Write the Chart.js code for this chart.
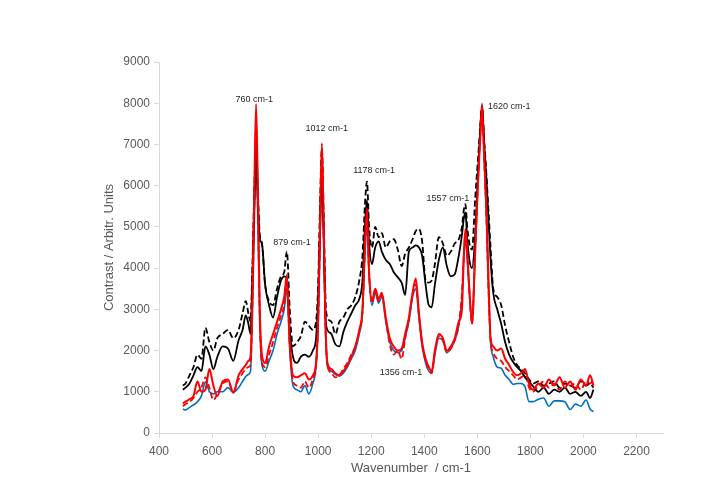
<!DOCTYPE html>
<html>
<head>
<meta charset="utf-8">
<script src="https://cdn.jsdelivr.net/npm/chart.js@4/dist/chart.umd.min.js"></script>
<style>
  html, body { margin: 0; padding: 0; background: #fff; }
  .chart-box { position: relative; width: 709px; height: 498px; }
</style>
</head>
<body>
<div class="chart-box"><canvas id="spectrum"></canvas></div>
<script>
// wavenumber grid (cm-1), shared by all five spectra
const wavenumber = [
  490, 500, 515, 530, 545, 560, 575, 590, 605, 620,
  640, 660, 680, 700, 715, 727, 737, 745, 752, 759,
  766, 773, 780, 788, 800, 815, 830, 845, 860, 872,
  882, 893, 905, 920, 935, 950, 965, 980, 992, 1000,
  1007, 1014, 1021, 1028, 1035, 1050, 1065, 1080, 1095, 1110,
  1125, 1140, 1155, 1167, 1176, 1184, 1192, 1203, 1215, 1228,
  1240, 1255, 1270, 1285, 1300, 1315, 1328, 1342, 1356, 1368,
  1380, 1392, 1405, 1417, 1428, 1440, 1455, 1470, 1485, 1500,
  1515, 1530, 1542, 1549, 1555, 1562, 1570, 1580, 1592, 1602,
  1610, 1618, 1626, 1634, 1642, 1650, 1660, 1675, 1690, 1705,
  1720, 1735, 1750, 1765, 1780, 1795, 1810, 1830, 1850, 1870,
  1890, 1910, 1930, 1950, 1970, 1990, 2010, 2025, 2038
];

const redSolid = [
  720, 760, 820, 900, 1250, 1000, 1050, 1550, 1150, 900,
  1250, 1300, 980, 1400, 1550, 1650, 1750, 1850, 3300, 5800,
  7980, 5800, 3000, 1900, 1700, 2100, 2400, 2700, 3000, 3300,
  3830, 2200, 1400, 1350, 1400, 1450, 1300, 1400, 1700, 2800,
  5000, 7030, 5000, 2600, 1700, 1550, 1450, 1400, 1500, 1650,
  1850, 2100, 2500, 3000, 4500, 5450, 3900, 3200, 3500, 3250,
  3400, 2800, 2300, 2100, 2000, 2050, 2400, 2800, 3400, 3750,
  2900, 2200, 1800, 1600, 1500, 2000, 2400, 2300, 2000, 2100,
  2300, 2700, 3000, 4300, 4950, 4400, 3500, 2650, 4400, 6000,
  7000, 7950, 6700, 5500, 3800, 2300, 2100, 2000, 2050, 1800,
  1650, 1480, 1400, 1450, 1550, 1200, 1050, 1200, 1100, 1300,
  1150, 1350, 1100, 1250, 1050, 1300, 1150, 1400, 1150
];

const redDashed = [
  650, 700, 750, 850, 1000, 1100, 1350, 1100, 800, 950,
  1200, 1250, 1000, 1300, 1450, 1550, 1600, 1650, 3100, 5400,
  7500, 5400, 2800, 1700, 1600, 1900, 2200, 2550, 2850, 3100,
  3600, 2100, 1250, 1150, 1100, 1250, 1100, 1300, 1650, 2700,
  4800, 6700, 4700, 2500, 1650, 1450, 1350, 1400, 1550, 1700,
  1900, 2100, 2450, 2950, 4400, 5250, 3900, 3150, 3450, 3200,
  3350, 2750, 2150, 1900, 2000, 1800, 2300, 2750, 3350, 3600,
  2850, 2150, 1750, 1550, 1450, 1950, 2350, 2250, 1950, 2050,
  2250, 2650, 3400, 4300, 4800, 4300, 3450, 2650, 4450, 6000,
  7200, 7950, 6600, 5300, 3500, 2250, 1950, 1800, 1750, 1600,
  1500, 1400, 1300, 1350, 1400, 1100, 1000, 1150, 1250, 1100,
  1200, 1050, 1250, 1150, 1200, 1050, 1250, 1200, 1300
];

const blackSolid = [
  1050, 1100, 1200, 1400, 1600, 1500, 2100, 1900, 1550, 1850,
  2100, 2050, 1750, 2250, 2500, 2850, 2650, 2400, 3800, 5500,
  6900, 5600, 4700, 4600, 3600, 3100, 2800, 3300, 3700, 3800,
  3750, 2500, 1850, 1700, 1850, 1900, 1850, 2000, 2300, 3300,
  5000, 6400, 4800, 2800, 2500, 2400, 2150, 2100, 2450, 2700,
  2900, 3100, 3250, 3700, 5000, 5650, 4600, 4100, 4500, 4650,
  4400, 4200, 4100, 3900, 3780, 3640, 3350, 4400, 4500, 4550,
  4500, 4300, 3600, 3100, 3050, 3600, 4200, 4500, 4050, 3800,
  3850, 4300, 4800, 5200, 5350, 4700, 4200, 4000, 4800, 6200,
  7200, 7900, 7000, 6200, 5200, 4200, 3400, 3000, 2650, 2200,
  1900, 1720, 1600, 1500, 1350, 1250, 1130, 1000, 1100, 950,
  1050, 1000, 1100, 950, 1000, 900, 1000, 850, 1050
];

const blackDashed = [
  1150, 1200, 1400, 1600, 1900, 1800, 2550, 2200, 2000, 2300,
  2400, 2500, 2300, 2500, 2900, 3200, 2900, 2700, 4000, 5800,
  7100, 5800, 4800, 4600, 3600, 3200, 3100, 3500, 3800, 3900,
  4400, 3000, 2100, 2200, 2350, 2700, 2600, 2500, 2700, 3600,
  5500, 6900, 5200, 3200, 2800, 2700, 2400, 2700, 2800, 3000,
  3100, 3300, 3700, 4300, 5500, 6100, 5000, 4500, 5000, 4750,
  4850, 4500, 4650, 4700, 4450, 4050, 4350, 4500, 4700, 4900,
  4950, 4650, 3700, 3650, 3700, 4100, 4750, 4600, 4300, 4400,
  4600, 4700, 5000, 5400, 5550, 5000, 4600, 4450, 5700, 6600,
  7300, 7900, 7100, 6300, 5400, 4500, 3500, 3300, 3100, 2600,
  2200, 1850, 1650, 1550, 1450, 1300, 1200, 1250, 1150, 1200,
  1250, 1100, 1200, 1150, 1100, 1250, 1150, 1200, 1100
];

const blueSolid = [
  580, 560, 620, 680, 760, 900, 1240, 1000, 950, 1000,
  1000, 1100, 980, 1100, 1250, 1370, 1420, 1500, 2800, 5000,
  6750, 5000, 2600, 1650, 1500, 1750, 2000, 2400, 2700, 3000,
  3500, 2000, 1150, 1050, 1000, 1150, 950, 1200, 1600, 2600,
  4600, 6300, 4500, 2400, 1600, 1500, 1420, 1380, 1450, 1600,
  1800, 2000, 2400, 2900, 4300, 5100, 3800, 3100, 3400, 3150,
  3300, 2700, 2200, 2000, 1950, 2000, 2300, 2700, 3300, 3500,
  2800, 2100, 1700, 1500, 1450, 1900, 2300, 2250, 1950, 2050,
  2250, 2600, 3300, 4200, 4700, 4200, 3400, 2700, 4500, 6100,
  7300, 8000, 6700, 5300, 3500, 2200, 1850, 1600, 1570, 1400,
  1300, 1180, 1200, 1200, 1120, 760, 760, 820, 850, 650,
  780, 780, 760, 570, 700, 650, 800, 580, 520
];

// peak annotations: text and where it sits (wavenumber, contrast)
const peakLabels = ['760 cm-1', '879 cm-1', '1012 cm-1', '1178 cm-1', '1356 cm-1', '1557 cm-1', '1620 cm-1'];
const peakLabelX = [759, 901, 1032, 1211, 1312, 1489, 1720];
const peakLabelY = [8080, 4630, 7390, 6363, 1463, 5694, 7916];

// axis ranges and tick values
const xRange = [400, 2300];
const xTickValues = [400, 600, 800, 1000, 1200, 1400, 1600, 1800, 2000, 2200];
const yRange = [0, 9000];
const yStep = 1000;

const toPoints = (values) => values.map((v, i) => ({ x: wavenumber[i], y: v }));

const lineSet = (label, values, color, width, dash) => ({
  label: label,
  data: toPoints(values),
  borderColor: color,
  borderWidth: width,
  borderDash: dash || [],
  pointRadius: 0,
  fill: false,
  cubicInterpolationMode: 'monotone'
});

const peakLabelPlugin = {
  id: 'peakLabels',
  afterDatasetsDraw(chart) {
    const ctx = chart.ctx;
    const x = chart.scales.x;
    const y = chart.scales.y;
    ctx.save();
    ctx.font = '9px "Liberation Sans", Arial, sans-serif';
    ctx.fillStyle = '#262626';
    ctx.textAlign = 'center';
    ctx.textBaseline = 'middle';
    peakLabels.forEach((text, i) => {
      ctx.fillText(text, x.getPixelForValue(peakLabelX[i]), y.getPixelForValue(peakLabelY[i]));
    });
    ctx.restore();
  }
};

const axisGrey = '#d9d9d9';
const tickFont = { family: '"Liberation Sans", Arial, sans-serif', size: 12 };
const titleFont = { family: '"Liberation Sans", Arial, sans-serif', size: 13 };
const plainNumber = (value) => String(value);

const config = {
  type: 'line',
  data: {
    datasets: [
      lineSet('red', redSolid, '#ff0000', 2),
      lineSet('black dashed', blackDashed, '#000000', 1.8, [6, 3]),
      lineSet('black', blackSolid, '#000000', 1.8),
      lineSet('red dashed', redDashed, '#ff0000', 1.8, [6, 3]),
      lineSet('blue', blueSolid, '#0070c0', 1.6)
    ]
  },
  options: {
    responsive: true,
    maintainAspectRatio: false,
    animation: false,
    layout: { padding: { left: 0, right: 46, top: 62, bottom: 0 } },
    plugins: {
      legend: { display: false },
      tooltip: { enabled: false }
    },
    scales: {
      x: {
        type: 'linear',
        min: xRange[0],
        max: xRange[1],
        afterFit: (scale) => { scale.height = 65; },
        afterBuildTicks: (scale) => { scale.ticks = xTickValues.map(v => ({ value: v })); },
        ticks: { color: '#595959', font: tickFont, padding: 6, maxRotation: 0, autoSkip: false, callback: plainNumber },
        grid: { drawOnChartArea: false, drawTicks: true, tickLength: 5, color: axisGrey },
        border: { display: true, color: axisGrey },
        title: { display: true, text: 'Wavenumber  / cm-1', color: '#595959', font: titleFont, padding: { top: 0, bottom: 22 } }
      },
      y: {
        min: yRange[0],
        max: yRange[1],
        afterFit: (scale) => { scale.width = 159; },
        ticks: { stepSize: yStep, color: '#595959', font: tickFont, padding: 4, callback: plainNumber },
        grid: { drawOnChartArea: false, drawTicks: true, tickLength: 5, color: axisGrey },
        border: { display: true, color: axisGrey },
        title: { display: true, text: 'Contrast / Arbitr. Units', color: '#595959', font: titleFont, padding: { top: 102, bottom: 0 } }
      }
    }
  },
  plugins: [peakLabelPlugin]
};

const spectrumChart = new Chart(document.getElementById('spectrum'), config);
</script>
</body>
</html>
